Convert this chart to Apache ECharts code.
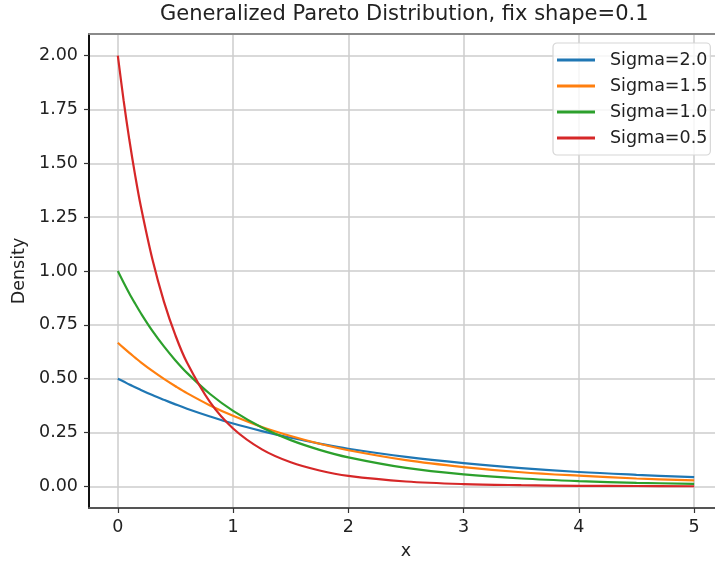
<!DOCTYPE html>
<html>
<head>
<meta charset="utf-8">
<script src="https://cdn.jsdelivr.net/npm/echarts@6/dist/echarts.min.js"></script>
<style>
  html, body { margin: 0; padding: 0; background: #fff; }
  #chart { width: 715px; height: 562px; }
</style>
</head>
<body>
<div id="chart"></div>
<script>
// Generalized Pareto densities, shape fixed at 0.1.
const xs = [0, 0.05, 0.1, 0.15, 0.2, 0.3, 0.4, 0.5, 0.6, 0.8, 1.0, 1.25, 1.5, 1.75, 2, 2.5, 3, 3.5, 4, 4.5, 5];
const sigma20 = [0.500, 0.487, 0.473, 0.461, 0.448, 0.424, 0.402, 0.381, 0.361, 0.325, 0.292, 0.257, 0.226, 0.199, 0.175, 0.137, 0.108, 0.085, 0.067, 0.054, 0.043];
const sigma15 = [0.667, 0.643, 0.620, 0.598, 0.576, 0.536, 0.499, 0.465, 0.433, 0.376, 0.328, 0.276, 0.234, 0.198, 0.168, 0.122, 0.090, 0.066, 0.050, 0.037, 0.028];
const sigma10 = [1.000, 0.947, 0.896, 0.849, 0.804, 0.722, 0.650, 0.585, 0.527, 0.429, 0.351, 0.274, 0.215, 0.170, 0.135, 0.086, 0.056, 0.037, 0.025, 0.017, 0.012];
const sigma05 = [2.000, 1.793, 1.609, 1.445, 1.299, 1.054, 0.858, 0.701, 0.575, 0.391, 0.269, 0.172, 0.112, 0.074, 0.049, 0.023, 0.011, 0.006, 0.003, 0.002, 0.001];
const seriesNames = ['Sigma=2.0', 'Sigma=1.5', 'Sigma=1.0', 'Sigma=0.5'];
const xTicks = [0, 1, 2, 3, 4, 5];
const yTicks = [0, 0.25, 0.5, 0.75, 1.0, 1.25, 1.5, 1.75, 2.0];

const COLORS = ['#1f77b4', '#ff7f0e', '#2ca02c', '#d62728'];
const FONT = 'DejaVu Sans';
const FS = 17.5;

function pairs(ys) {
  return xs.map((x, i) => [x, ys[i]]);
}

const chart = echarts.init(document.getElementById('chart'), null, { renderer: 'canvas' });

const option = {
  backgroundColor: '#fff',
  animation: false,
  textStyle: { fontFamily: FONT, color: '#222' },
  title: {
    text: 'Generalized Pareto Distribution, fix shape=0.1',
    left: 160,
    top: 4,
    padding: 0,
    textStyle: { fontFamily: FONT, fontSize: 21, fontWeight: 'normal', color: '#222' },
  },
  legend: {
    data: seriesNames,
    orient: 'vertical',
    left: 553,
    top: 43,
    padding: [8, 3, 8, 4],
    itemGap: 8,
    itemWidth: 38,
    itemHeight: 3,
    icon: 'rect',
    borderColor: '#d6d6d6',
    borderWidth: 1.2,
    borderRadius: 4,
    backgroundColor: 'rgba(255,255,255,0.8)',
    textStyle: { fontFamily: FONT, fontSize: FS, color: '#222', padding: [0, 0, 0, 10] },
  },
  grid: {
    left: 89,
    top: 34,
    width: 634,
    height: 474,
    outerBoundsMode: 'none',
  },
  xAxis: [
    {
      type: 'value',
      min: -0.25,
      max: 5.25,
      name: 'x',
      nameLocation: 'middle',
      nameGap: 34,
      nameTextStyle: { fontFamily: FONT, fontSize: FS, color: '#222' },
      axisLine: { onZero: false, lineStyle: { color: '#555', width: 2 } },
      axisTick: { customValues: xTicks, length: 5, lineStyle: { color: '#333', width: 1.2 } },
      axisLabel: { customValues: xTicks, margin: 10, fontFamily: FONT, fontSize: FS, color: '#222' },
      splitLine: { show: true, lineStyle: { color: '#cccccc', width: 1.5 } },
    },
    {
      // top spine only
      type: 'value',
      position: 'top',
      min: -0.25,
      max: 5.25,
      axisLine: { show: true, onZero: false, lineStyle: { color: '#8a8a8a', width: 2 } },
      axisTick: { show: false },
      axisLabel: { show: false },
      splitLine: { show: false },
    },
  ],
  yAxis: {
    type: 'value',
    min: -0.1,
    max: 2.1,
    name: 'Density',
    nameLocation: 'middle',
    nameGap: 59,
    nameTextStyle: { fontFamily: FONT, fontSize: FS, color: '#222' },
    axisLine: { show: true, onZero: false, lineStyle: { color: '#111', width: 2 } },
    axisTick: { show: true, customValues: yTicks, length: 5, lineStyle: { color: '#333', width: 1.2 } },
    axisLabel: {
      customValues: yTicks,
      margin: 11,
      fontFamily: FONT,
      fontSize: FS,
      color: '#222',
      formatter: (v) => v.toFixed(2),
    },
    splitLine: { show: true, lineStyle: { color: '#cccccc', width: 1.5 } },
  },
  series: [sigma20, sigma15, sigma10, sigma05].map((ys, i) => ({
    name: seriesNames[i],
    type: 'line',
    data: pairs(ys),
    showSymbol: false,
    symbol: 'none',
    smooth: 0.35,
    color: COLORS[i],
    lineStyle: { width: 2.2, color: COLORS[i] },
    z: 3 + i,
  })),
};

chart.setOption(option);
</script>
</body>
</html>
